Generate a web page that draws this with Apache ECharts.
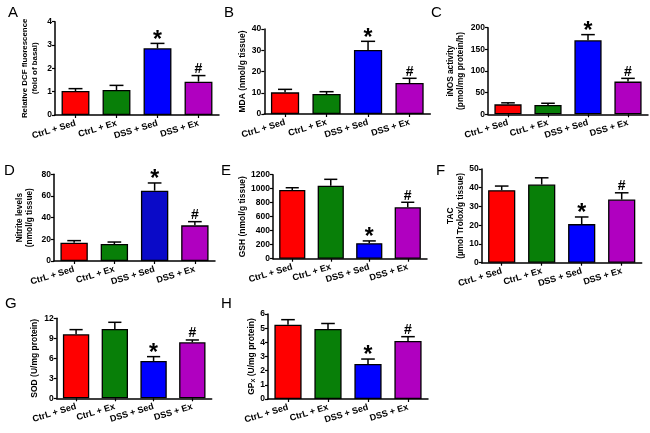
<!DOCTYPE html>
<html>
<head>
<meta charset="utf-8">
<script src="https://cdn.jsdelivr.net/npm/echarts@6/dist/echarts.min.js"></script>
<style>
html,body{margin:0;padding:0;background:#fff;}
#chart{width:650px;height:433px;}
</style>
</head>
<body>
<div id="chart"></div>
<script>
// ---- data ----
const categories = ['CtrL + Sed', 'CtrL + Ex', 'DSS + Sed', 'DSS + Ex'];
const panelLetters = ['A', 'B', 'C', 'D', 'E', 'F', 'G', 'H'];

const dcfMean = [1.03, 1.07, 2.86, 1.43];
const dcfSem = [0.10, 0.20, 0.21, 0.26];
const mdaMean = [10.2, 9.4, 30.1, 14.6];
const mdaSem = [1.4, 1.1, 4.1, 2.2];
const inosMean = [23, 21.5, 171, 75.5];
const inosSem = [3.5, 4, 13, 7.5];
const nitriteMean = [16.9, 15.7, 64.9, 32.9];
const nitriteSem = [1.9, 1.8, 7.1, 3.4];
const gshMean = [981, 1043, 222, 734];
const gshSem = [33, 91, 32, 72];
const tacMean = [38.7, 41.7, 20.6, 33.7];
const tacSem = [2.2, 3.6, 3.8, 3.6];
const sodMean = [9.6, 10.4, 5.6, 8.4];
const sodSem = [0.7, 1.0, 0.65, 0.35];
const gpxMean = [5.25, 4.95, 2.47, 4.1];
const gpxSem = [0.35, 0.38, 0.35, 0.3];

const significance = ['', '', '*', '#'];

const yMax = [4, 40, 200, 80, 1200, 50, 12, 6];
const yStep = [1, 10, 50, 20, 200, 10, 3, 1];
const yNames = [
  'Relative DCF fluorescence\n(fold of basal)',
  'MDA (nmol/g tissue)',
  'iNOS activity\n(pmol/mg protein/h)',
  'Nitrite levels\n(nmol/g tissue)',
  'GSH (nmol/g tissue)',
  'TAC\n(\u00b5mol Trolox/g tissue)',
  'SOD (U/mg protein)',
  '{n|GP}{s|X}{n| (U/mg protein)}'
];

const means = [dcfMean, mdaMean, inosMean, nitriteMean, gshMean, tacMean, sodMean, gpxMean];
const sems = [dcfSem, mdaSem, inosSem, nitriteSem, gshSem, tacSem, sodSem, gpxSem];

// ---- styles / layout ----
const FONT = '"Liberation Sans", Arial, sans-serif';
const barColors = ['#ff0000', '#087f08', '#0000ff', '#b000c0'];
const barColorsD = ['#ff0000', '#087f08', '#0a0ac8', '#b000c0'];
const layout = [
  {left: 55, top: 21.7, width: 164, height: 93.3, gap: 15, lx: 8, ly: 5, fs: 7.9},
  {left: 264.3, top: 29, width: 166, height: 85, gap: 14, lx: 224, ly: 5, fs: 8.5},
  {left: 488, top: 27.7, width: 160, height: 86.6, gap: 22, lx: 431, ly: 5, fs: 8.3},
  {left: 54, top: 174.3, width: 161, height: 86.7, gap: 19, lx: 4, ly: 163, fs: 8.3},
  {left: 273, top: 174.7, width: 154, height: 84, gap: 25, lx: 221, ly: 163, fs: 8.5},
  {left: 481.7, top: 169, width: 160, height: 93.7, gap: 16, lx: 436, ly: 163, fs: 8.3},
  {left: 56.7, top: 318.3, width: 155, height: 80, gap: 17, lx: 5, ly: 296, fs: 8.5},
  {left: 268, top: 314, width: 160, height: 85, gap: 11, lx: 221, ly: 296, fs: 8.5}
];

const grid = [], xAxis = [], yAxis = [], series = [], graphic = [];

layout.forEach((L, k) => {
  grid.push({left: L.left, top: L.top, width: L.width, height: L.height, containLabel: false, outerBoundsMode: 'none'});
  xAxis.push({
    type: 'category', gridIndex: k, data: categories,
    axisLine: {show: true, lineStyle: {color: '#000', width: 1.5}},
    axisTick: {show: true, alignWithLabel: true, length: 3, lineStyle: {color: '#000', width: 1.2}},
    axisLabel: {rotate: 17, margin: 8, color: '#000', fontFamily: FONT, fontWeight: 'bold', fontSize: 9, interval: 0},
    splitLine: {show: false}
  });
  yAxis.push({
    type: 'value', gridIndex: k, min: 0, max: yMax[k], interval: yStep[k],
    name: yNames[k], nameLocation: 'middle', nameGap: L.gap,
    nameTextStyle: {color: '#000', fontFamily: FONT, fontWeight: 'bold', fontSize: L.fs, lineHeight: 10,
      rich: {n: {fontFamily: FONT, fontWeight: 'bold', fontSize: L.fs, color: '#000'},
             s: {fontFamily: FONT, fontWeight: 'bold', fontSize: 5.8, color: '#000', verticalAlign: 'bottom', padding: [6, 0, 0, 0]}}},
    axisLine: {show: true, lineStyle: {color: '#000', width: 1.5}},
    axisTick: {show: true, length: 3, lineStyle: {color: '#000', width: 1.2}},
    axisLabel: {margin: 3, color: '#000', fontFamily: FONT, fontWeight: 'bold', fontSize: 8.5, formatter: v => String(v)},
    splitLine: {show: false}
  });
  const cols = k === 3 ? barColorsD : barColors;
  series.push({
    type: 'bar', xAxisIndex: k, yAxisIndex: k, barWidth: '68%',
    data: means[k].map((v, i) => ({value: v, itemStyle: {color: cols[i], borderColor: '#000', borderWidth: 1.3}})),
    animation: false
  });
  series.push({
    type: 'custom', xAxisIndex: k, yAxisIndex: k, animation: false, z: 5,
    data: means[k].map((v, i) => [i, v, sems[k][i]]),
    renderItem: function (params, api) {
      const i = api.value(0), m = api.value(1), s = api.value(2);
      const base = api.coord([i, m]);
      const top = api.coord([i, m + s]);
      const w = api.size([1, 0])[0] * 0.17;
      const mk = significance[params.dataIndex];
      const children = [
        {type: 'line', shape: {x1: base[0], y1: base[1], x2: top[0], y2: top[1]}, style: {stroke: '#000', lineWidth: 1.5}},
        {type: 'line', shape: {x1: top[0] - w, y1: top[1], x2: top[0] + w, y2: top[1]}, style: {stroke: '#000', lineWidth: 1.5}}
      ];
      if (mk === '*') {
        children.push({type: 'text', x: top[0], y: top[1] - 3,
          style: {text: '*', fill: '#000', font: 'bold 23px ' + FONT, textAlign: 'center', textVerticalAlign: 'middle'}});
      } else if (mk === '#') {
        children.push({type: 'text', x: top[0], y: top[1] + 0.5,
          style: {text: '#', fill: '#000', font: 'bold 14px ' + FONT, textAlign: 'center', textVerticalAlign: 'bottom'}});
      }
      return {type: 'group', children: children};
    }
  });
  graphic.push({type: 'text', left: L.lx, top: L.ly, style: {text: panelLetters[k], fill: '#000', font: '15px ' + FONT}});
});

const chart = echarts.init(document.getElementById('chart'), null, {renderer: 'canvas'});
chart.setOption({
  animation: false,
  backgroundColor: '#fff',
  grid: grid, xAxis: xAxis, yAxis: yAxis, series: series, graphic: graphic
});
</script>
</body>
</html>
